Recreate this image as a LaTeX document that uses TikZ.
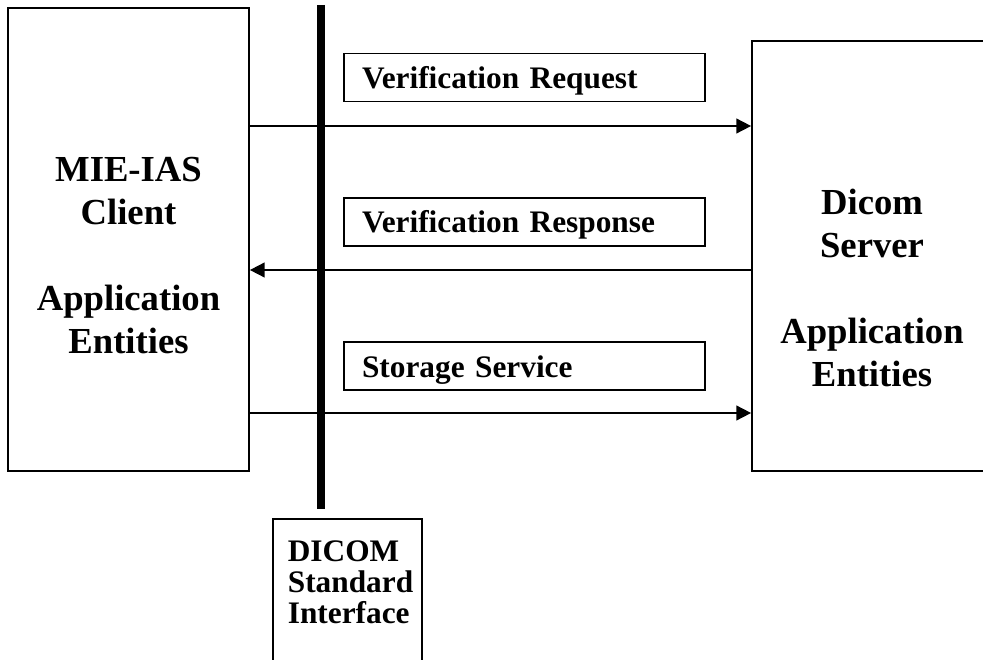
\documentclass[tikz,border=0pt]{standalone}
\usepackage{fontspec}
\setmainfont{Liberation Serif}
\usetikzlibrary{arrows.meta,positioning}

\begin{document}
\begin{tikzpicture}[
        x = 0.75pt, y = -0.75pt, % one unit is one pixel, y runs down
        > = {Triangle[length=11pt,width=11pt]}, % arrow head style
        line width = 1.3pt % line style
        ]

        \tikzset{
        entitybox/.style = {draw, inner sep=0pt},
        entitytext/.style = {font=\fontsize{27.5}{32.25}\selectfont\bfseries,
            align=center, inner sep=0pt, anchor=north},
        msgbox/.style = {draw, minimum width=270.75pt, minimum height=36pt,
            text width=243.75pt, inner xsep=13.5pt, inner ysep=0pt, align=left,
            text height=16.5pt, text depth=0pt,
            font=\fontsize{23.5}{28}\selectfont\bfseries},
        ifacetext/.style = {font=\fontsize{23.5}{23.25}\selectfont\bfseries,
            align=left, inner sep=0pt, anchor=north west},
        bar/.style = {line width=6pt}
        }

        \useasboundingbox (0,0) rectangle (983,660);

        % the two sides
        \node[entitybox, minimum width=180.75pt, minimum height=347.25pt] (client) at (128.5,239.5) {};
        \node[entitybox, minimum width=182.25pt, minimum height=322.5pt] (server) at (873.5,256) {};
        \node[entitytext] (clienttxt) at (128.5,156) {MIE-IAS\\Client\\[32.25pt]Application\\Entities};
        \node[entitytext] (servertxt) at (872,188) {Dicom\\Server\\[32.25pt]Application\\Entities};

        % interface bar
        \coordinate (bartop) at (321,5);
        \coordinate (barbot) at (321,509);
        \draw[bar] (bartop) -- (barbot);
        \node[entitybox, minimum width=111.75pt, minimum height=113.25pt] (iface) at (347.5,594.5) {};
        \node[ifacetext] (ifacetxt) at (287,540) {DICOM\\Standard\\Interface};

        % messages
        \node[msgbox] (req) at (524.5,77.5) {Verification Request};
        \node[msgbox] (resp) [below=71pt of req] {Verification Response};
        \node[msgbox] (stor) [below=71pt of resp] {Storage Service};

        \coordinate (row1) at (0,126);
        \coordinate (row2) at (0,270);
        \coordinate (row3) at (0,413);
        \draw[->] (client.east |- row1) -- (server.west |- row1);
        \draw[->] (server.west |- row2) -- (client.east |- row2);
        \draw[->] (client.east |- row3) -- (server.west |- row3);

      \end{tikzpicture}
\end{document}
